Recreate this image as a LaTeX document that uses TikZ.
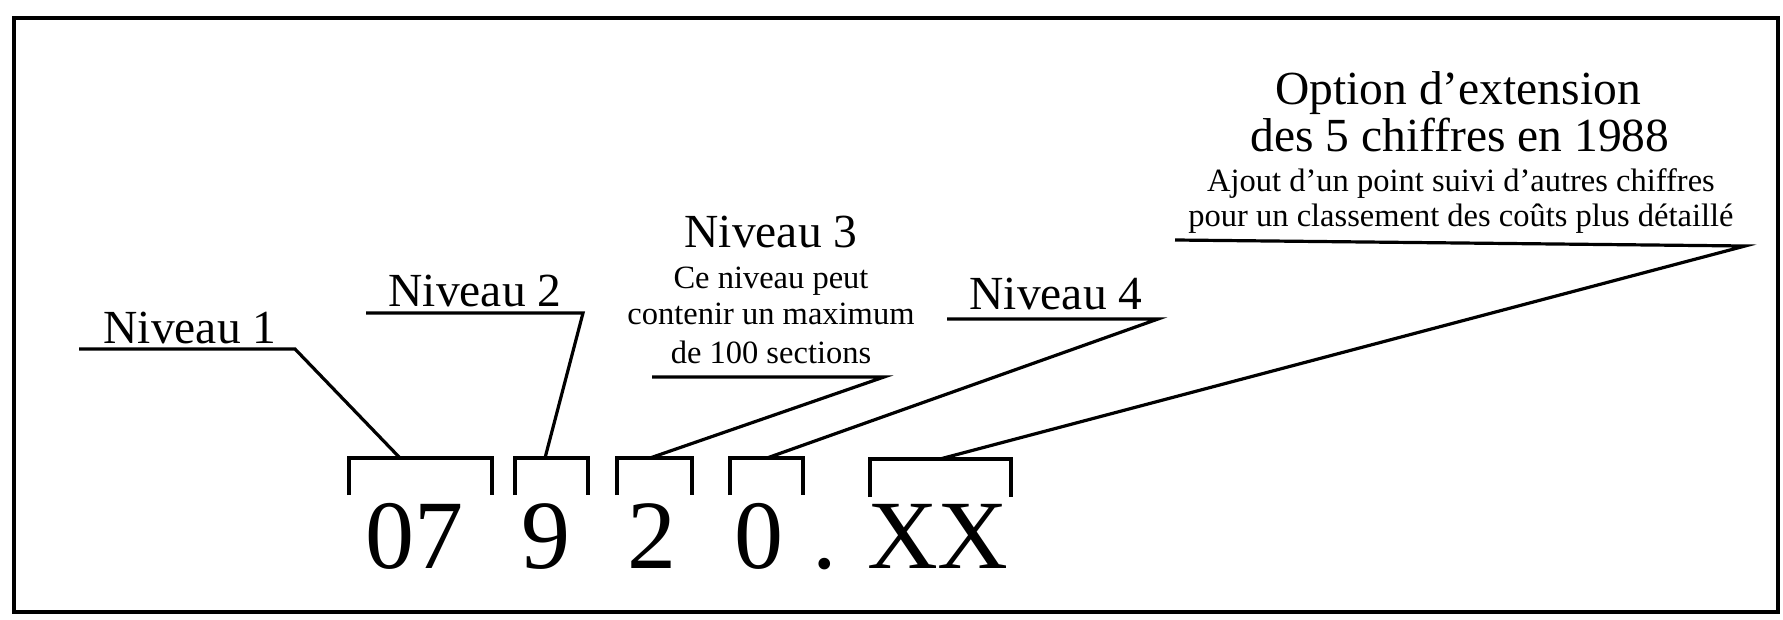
\documentclass[tikz,border=0pt]{standalone}
\usepackage{fontspec}
\setmainfont{Liberation Serif}
\begin{document}
\begin{tikzpicture}[x=1pt,y=-1pt,
  lbl/.style={font=\fontsize{47.5}{50}\selectfont, anchor=base, inner sep=0pt},
  small/.style={font=\fontsize{32.5}{34}\selectfont, anchor=base, inner sep=0pt},
  digit/.style={font=\fontsize{98}{100}\selectfont, anchor=base, inner sep=0pt},
  lead/.style={line width=3.2pt, line join=miter, line cap=butt},
  brk/.style={line width=3.4pt, line join=miter},
  frame/.style={line width=3.4pt}]
\useasboundingbox (0,0) rectangle (1783,620);
\fill[white] (0,0) rectangle (1783,620);
\draw[frame] (14,18) rectangle (1778,612);

% labels
\node[lbl] (n1) at (190,343) {Niveau 1};
\node[lbl] (n2) at (475,307) {Niveau 2};
\node[lbl] (n3) at (771,248) {Niveau 3};
\node[small] (n3a) at (771,289) {Ce niveau peut};
\node[small] (n3b) at (771,325) {contenir un maximum};
\node[small] (n3c) at (771,363) {de 100 sections};
\node[lbl] (n4) at (1056,310) {Niveau 4};
\node[lbl] (o1) at (1458,105) {Option d’extension};
\node[lbl] (o2) at (1460,152) {des 5 chiffres en 1988};
\node[small] (o3) at (1461,192) {Ajout d’un point suivi d’autres chiffres};
\node[small] (o4) at (1461,227) {pour un classement des coûts plus détaillé};

% digits
\node[digit] (d07) at (414.5,568) {07};
\node[digit] (d9) at (545.5,568) {9};
\node[digit] (d2) at (651.5,568) {2};
\node[digit] (d0) at (759,568) {0};
\node[digit] (dot) at (825,568) {.};
\node[digit] (dxx) at (938,568) {XX};

% brackets
\draw[brk] (349,495) |- (492,458) -- (492,495);
\draw[brk] (515,495) |- (588,458) -- (588,495);
\draw[brk] (617,495) |- (692,458) -- (692,495);
\draw[brk] (730,495) |- (803,458) -- (803,495);
\draw[brk] (870,497) |- (1011,459) -- (1011,497);

% attach points
\coordinate (a07) at (400,458);
\coordinate (a9) at (545,458);
\coordinate (a2) at (650,458);
\coordinate (a0) at (767,458);
\coordinate (axx) at (940,459);

% underline ends
\coordinate (u1s) at (79,349);   \coordinate (u1e) at (295,349);
\coordinate (u2s) at (366,313);  \coordinate (u2e) at (583,313);
\coordinate (u3s) at (652,377);  \coordinate (u3e) at (884,377);
\coordinate (u4s) at (947,319);  \coordinate (u4e) at (1158,319);
\coordinate (u5s) at (1175,240); \coordinate (u5e) at (1745,246);

% leaders
\draw[lead] (u1s) -- (u1e) -- (a07);
\draw[lead] (u2s) -- (u2e) -- (a9);
\draw[lead] (u3s) -- (u3e) -- (a2);
\draw[lead] (u4s) -- (u4e) -- (a0);
\draw[lead] (u5s) -- (u5e) -- (axx);
\end{tikzpicture}
\end{document}
